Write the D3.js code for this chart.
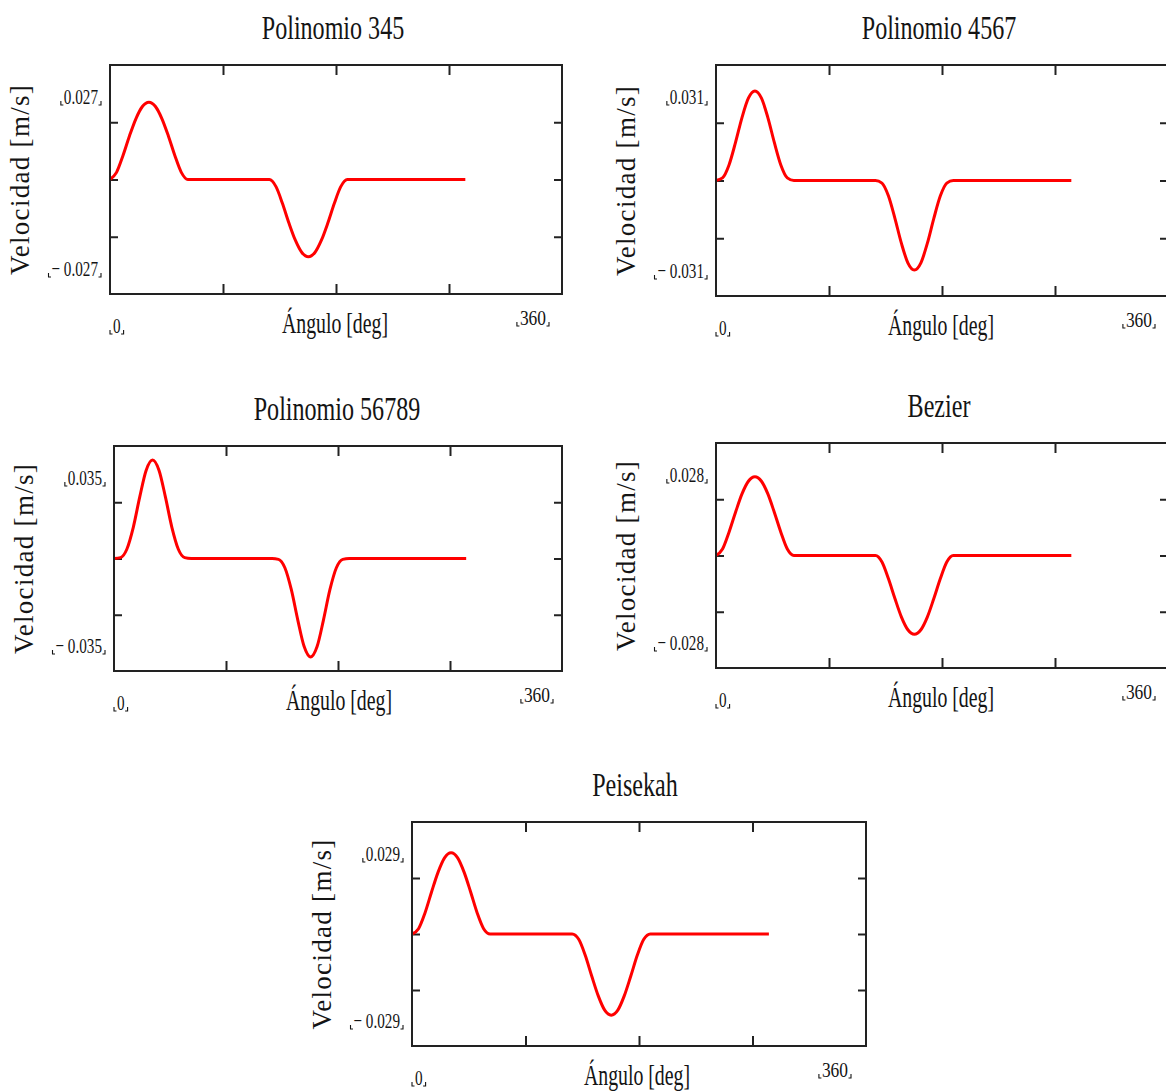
<!DOCTYPE html>
<html>
<head>
<meta charset="utf-8">
<script src="https://cdn.jsdelivr.net/npm/d3@7"></script>
<style>
  html, body { margin: 0; padding: 0; background: #fff; }
  svg { display: block; }
</style>
</head>
<body>
<svg id="chart" width="1166" height="1092"></svg>
<script>
// Cam follower velocity over one revolution, for five motion laws.
const angles = [0, 5.2, 10.3, 15.5, 20.7, 25.8, 31, 36.2, 41.3, 46.5, 51.7, 56.8, 62,
  127, 132.2, 137.3, 142.5, 147.7, 152.8, 158, 163.2, 168.3, 173.5, 178.7, 183.8, 189,
  283];

const velPoly345 = [0, 0.0025, 0.0083, 0.0152, 0.0213, 0.0255, 0.0270, 0.0255, 0.0213, 0.0152, 0.0083, 0.0025, 0,
  0, -0.0025, -0.0083, -0.0152, -0.0213, -0.0255, -0.0270, -0.0255, -0.0213, -0.0152, -0.0083, -0.0025, 0,
  0];
const velPoly4567 = [0, 0.0009, 0.0053, 0.0131, 0.0218, 0.0285, 0.0310, 0.0285, 0.0218, 0.0131, 0.0053, 0.0009, 0,
  0, -0.0009, -0.0053, -0.0131, -0.0218, -0.0285, -0.0310, -0.0285, -0.0218, -0.0131, -0.0053, -0.0009, 0,
  0];
const velPoly56789 = [0, 0.0003, 0.0033, 0.0111, 0.0219, 0.0313, 0.0350, 0.0313, 0.0219, 0.0111, 0.0033, 0.0003, 0,
  0, -0.0003, -0.0033, -0.0111, -0.0219, -0.0313, -0.0350, -0.0313, -0.0219, -0.0111, -0.0033, -0.0003, 0,
  0];
const velBezier = [0, 0.0023, 0.0082, 0.0153, 0.0219, 0.0264, 0.0280, 0.0264, 0.0219, 0.0153, 0.0082, 0.0023, 0,
  0, -0.0023, -0.0082, -0.0153, -0.0219, -0.0264, -0.0280, -0.0264, -0.0219, -0.0153, -0.0082, -0.0023, 0,
  0];
const velPeisekah = [0, 0.0019, 0.0075, 0.0150, 0.0221, 0.0272, 0.0290, 0.0272, 0.0221, 0.0150, 0.0075, 0.0019, 0,
  0, -0.0019, -0.0075, -0.0150, -0.0221, -0.0272, -0.0290, -0.0272, -0.0221, -0.0150, -0.0075, -0.0019, 0,
  0];

const titles = ["Polinomio 345", "Polinomio 4567", "Polinomio 56789", "Bezier", "Peisekah"];
const seriesList = [velPoly345, velPoly4567, velPoly56789, velBezier, velPeisekah];

const xDomain = [0, 360];
const yDomain = [-0.04, 0.04];
const xTickValues = [90, 180, 270];
const yTickValues = [-0.02, 0, 0.02];
const xAxisTitle = "Ángulo [deg]";
const yAxisTitle = "Velocidad [m/s]";

// Frame of each plot on the page
const frames = [
  { left: 110, top: 65,  right: 562,  bottom: 294 },
  { left: 716, top: 65,  right: 1168, bottom: 296 },
  { left: 114, top: 446, right: 562,  bottom: 671 },
  { left: 716, top: 443, right: 1168, bottom: 668 },
  { left: 412, top: 822, right: 866,  bottom: 1046 }
];

const svg = d3.select("#chart");
svg.append("rect").attr("width", 1166).attr("height", 1092).attr("fill", "#fff");

const SERIF = "'Liberation Serif', 'Times New Roman', serif";
const INK = "#141414";

// Text squeezed horizontally, like a narrow Times face
function squeezedText(g, x, y, str, size, sx, anchor) {
  return g.append("text")
    .attr("transform", `translate(${x},${y}) scale(${sx},1)`)
    .attr("text-anchor", anchor)
    .attr("font-family", SERIF)
    .attr("font-size", size)
    .attr("fill", INK)
    .text(str);
}

// Small corner marks around a placeholder label
function cornerMarks(g, textSel, x, y, sx) {
  const bb = textSel.node().getBBox();
  const x0 = x + bb.x * sx - 3;
  const x1 = x + (bb.x + bb.width) * sx + 3;
  const by = y + 1;
  g.append("path")
    .attr("d", `M${x0},${by - 4}V${by}H${x0 + 2.5} M${x1 - 2.5},${by}H${x1}V${by - 4}`)
    .attr("fill", "none").attr("stroke", INK).attr("stroke-width", 1.1);
}

frames.forEach((f, i) => {
  const series = seriesList[i];
  const g = svg.append("g");

  const x = d3.scaleLinear().domain(xDomain).range([f.left, f.right]);
  const y = d3.scaleLinear().domain(yDomain).range([f.bottom, f.top]);

  // inward ticks on all four sides
  const tick = (sel) => {
    sel.select(".domain").remove();
    sel.selectAll(".tick line").attr("stroke", "#222").attr("stroke-width", 2);
    sel.selectAll(".tick text").remove();
  };
  g.append("g").attr("transform", `translate(0,${f.bottom})`)
    .call(d3.axisBottom(x).tickValues(xTickValues).tickSize(-10).tickFormat("")).call(tick);
  g.append("g").attr("transform", `translate(0,${f.top})`)
    .call(d3.axisTop(x).tickValues(xTickValues).tickSize(-10).tickFormat("")).call(tick);
  g.append("g").attr("transform", `translate(${f.left},0)`)
    .call(d3.axisLeft(y).tickValues(yTickValues).tickSize(-8).tickFormat("")).call(tick);
  g.append("g").attr("transform", `translate(${f.right},0)`)
    .call(d3.axisRight(y).tickValues(yTickValues).tickSize(-8).tickFormat("")).call(tick);

  // velocity curve
  const line = d3.line()
    .x((d, k) => x(angles[k]))
    .y(d => y(d))
    .curve(d3.curveMonotoneX);
  g.append("path")
    .datum(series)
    .attr("d", line)
    .attr("fill", "none")
    .attr("stroke", "#ff0000")
    .attr("stroke-width", 3)
    .attr("stroke-linejoin", "round");

  // frame
  g.append("rect")
    .attr("x", f.left).attr("y", f.top)
    .attr("width", f.right - f.left).attr("height", f.bottom - f.top)
    .attr("fill", "none").attr("stroke", "#222").attr("stroke-width", 2);

  const plotW = 452;
  const midX = f.left + plotW / 2;

  // title
  squeezedText(g, midX - 3, f.top - 26, titles[i], 33, 0.73, "middle");

  // axis titles
  squeezedText(g, midX - 1, f.bottom + 39, xAxisTitle, 30, 0.66, "middle");
  g.append("text")
    .attr("transform", `translate(${f.left - 81},${(f.top + f.bottom) / 2}) rotate(-90)`)
    .attr("text-anchor", "middle")
    .attr("font-family", SERIF)
    .attr("font-size", 27)
    .attr("letter-spacing", 1.3)
    .attr("fill", INK)
    .text(yAxisTitle);

  // limit labels on the value axis
  const peak = d3.max(series);
  const fmt = d3.format(".3f");
  const ls = 0.69, lsz = 22;
  const tx = f.left - 12;
  const tTop = squeezedText(g, tx, f.top + 39, fmt(peak), lsz, ls, "end");
  cornerMarks(g, tTop, tx, f.top + 39, ls);
  const tBot = squeezedText(g, tx, f.bottom - 18, "\u2212 " + fmt(peak), lsz, ls, "end");
  cornerMarks(g, tBot, tx, f.bottom - 18, ls);

  // limit labels on the angle axis
  const zx = f.left + 3;
  const t0 = squeezedText(g, zx, f.bottom + 39, String(xDomain[0]), lsz, ls, "start");
  cornerMarks(g, t0, zx, f.bottom + 39, ls);
  const ex = f.left + plotW - 16;
  const t360 = squeezedText(g, ex, f.bottom + 31, String(xDomain[1]), 20, 0.87, "end");
  cornerMarks(g, t360, ex, f.bottom + 31, 0.87);
});
</script>
</body>
</html>
